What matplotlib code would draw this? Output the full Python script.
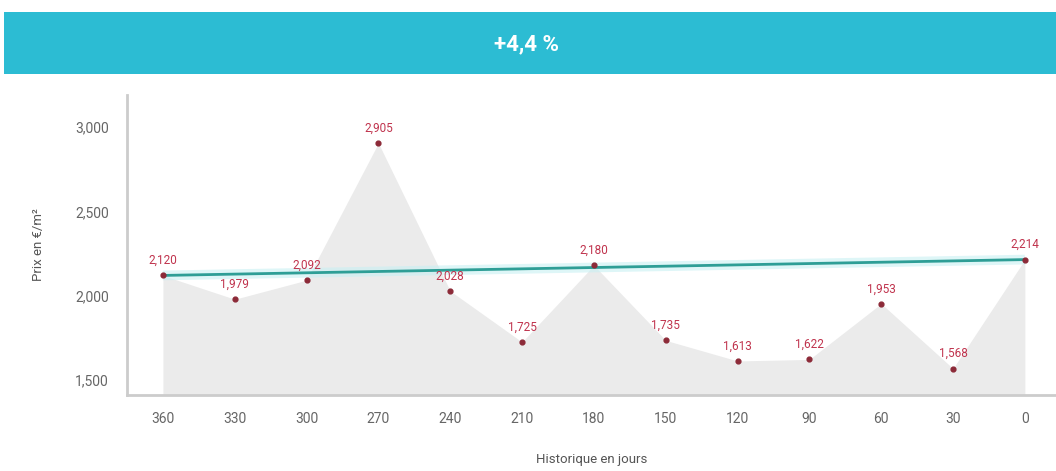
import matplotlib.pyplot as plt
from matplotlib.patches import Rectangle
from matplotlib.ticker import FuncFormatter

plt.rcParams['font.family'] = ['Roboto', 'DejaVu Sans']

days = [360, 330, 300, 270, 240, 210, 180, 150, 120, 90, 60, 30, 0]
prices = [2120, 1979, 2092, 2905, 2028, 1725, 2180, 1735, 1613, 1622, 1953, 1568, 2214]
header_text = "+4,4 %"
y_ticks = [1500, 2000, 2500, 3000]

fig = plt.figure(figsize=(10.56, 4.71), dpi=100)

# header band
fig.patches.append(Rectangle((4 / 1056, 1 - 74 / 471), 1, 62 / 471,
                             transform=fig.transFigure, facecolor='#2cbcd3',
                             edgecolor='none', zorder=0))
fig.text(527 / 1056, 1 - 44 / 471, header_text, color='white', fontsize=16,
         fontweight='bold', ha='center', va='center')

ax = fig.add_axes([127 / 1056, 1 - 395 / 471, 1 - 127 / 1056, 300 / 471])
ymin = 1411
ax.set_xlim(375, -13)
ax.set_ylim(ymin, 3190)

ax.fill_between(days, prices, ymin, color='#ebebeb', zorder=1, linewidth=0)

# trend between first and last point
tx = [days[0], days[-1]]
ty = [prices[0], prices[-1]]
ax.plot(tx, ty, color='#c8f0f3', lw=7, alpha=0.6, zorder=2, solid_capstyle='butt')
ax.plot(tx, ty, color='#2e9e96', lw=2, zorder=3)

ax.scatter(days, prices, s=12, color='#8c2a38', zorder=4)
for d, p in zip(days, prices):
    ax.annotate(f"{p:,}", (d, p), xytext=(0, 6), textcoords='offset points',
                ha='center', va='bottom', fontsize=8.5, color='#c0334d', zorder=5)

ax.set_xticks(days)
ax.set_yticks(y_ticks)
ax.yaxis.set_major_formatter(FuncFormatter(lambda v, _: f"{int(v):,}"))
ax.tick_params(length=0, labelsize=10, colors='#666666')
ax.tick_params(axis='x', pad=12)
ax.tick_params(axis='y', pad=13)

for s in ['top', 'right']:
    ax.spines[s].set_visible(False)
for s in ['left', 'bottom']:
    ax.spines[s].set_color('#cccccc')
    ax.spines[s].set_linewidth(2)

ax.set_xlabel("Historique en jours", fontsize=9.5, color='#555555', labelpad=20)
ax.set_ylabel("Prix en €/m²", fontsize=9.5, color='#555555', labelpad=22)

fig.savefig("out.png", dpi=100)
